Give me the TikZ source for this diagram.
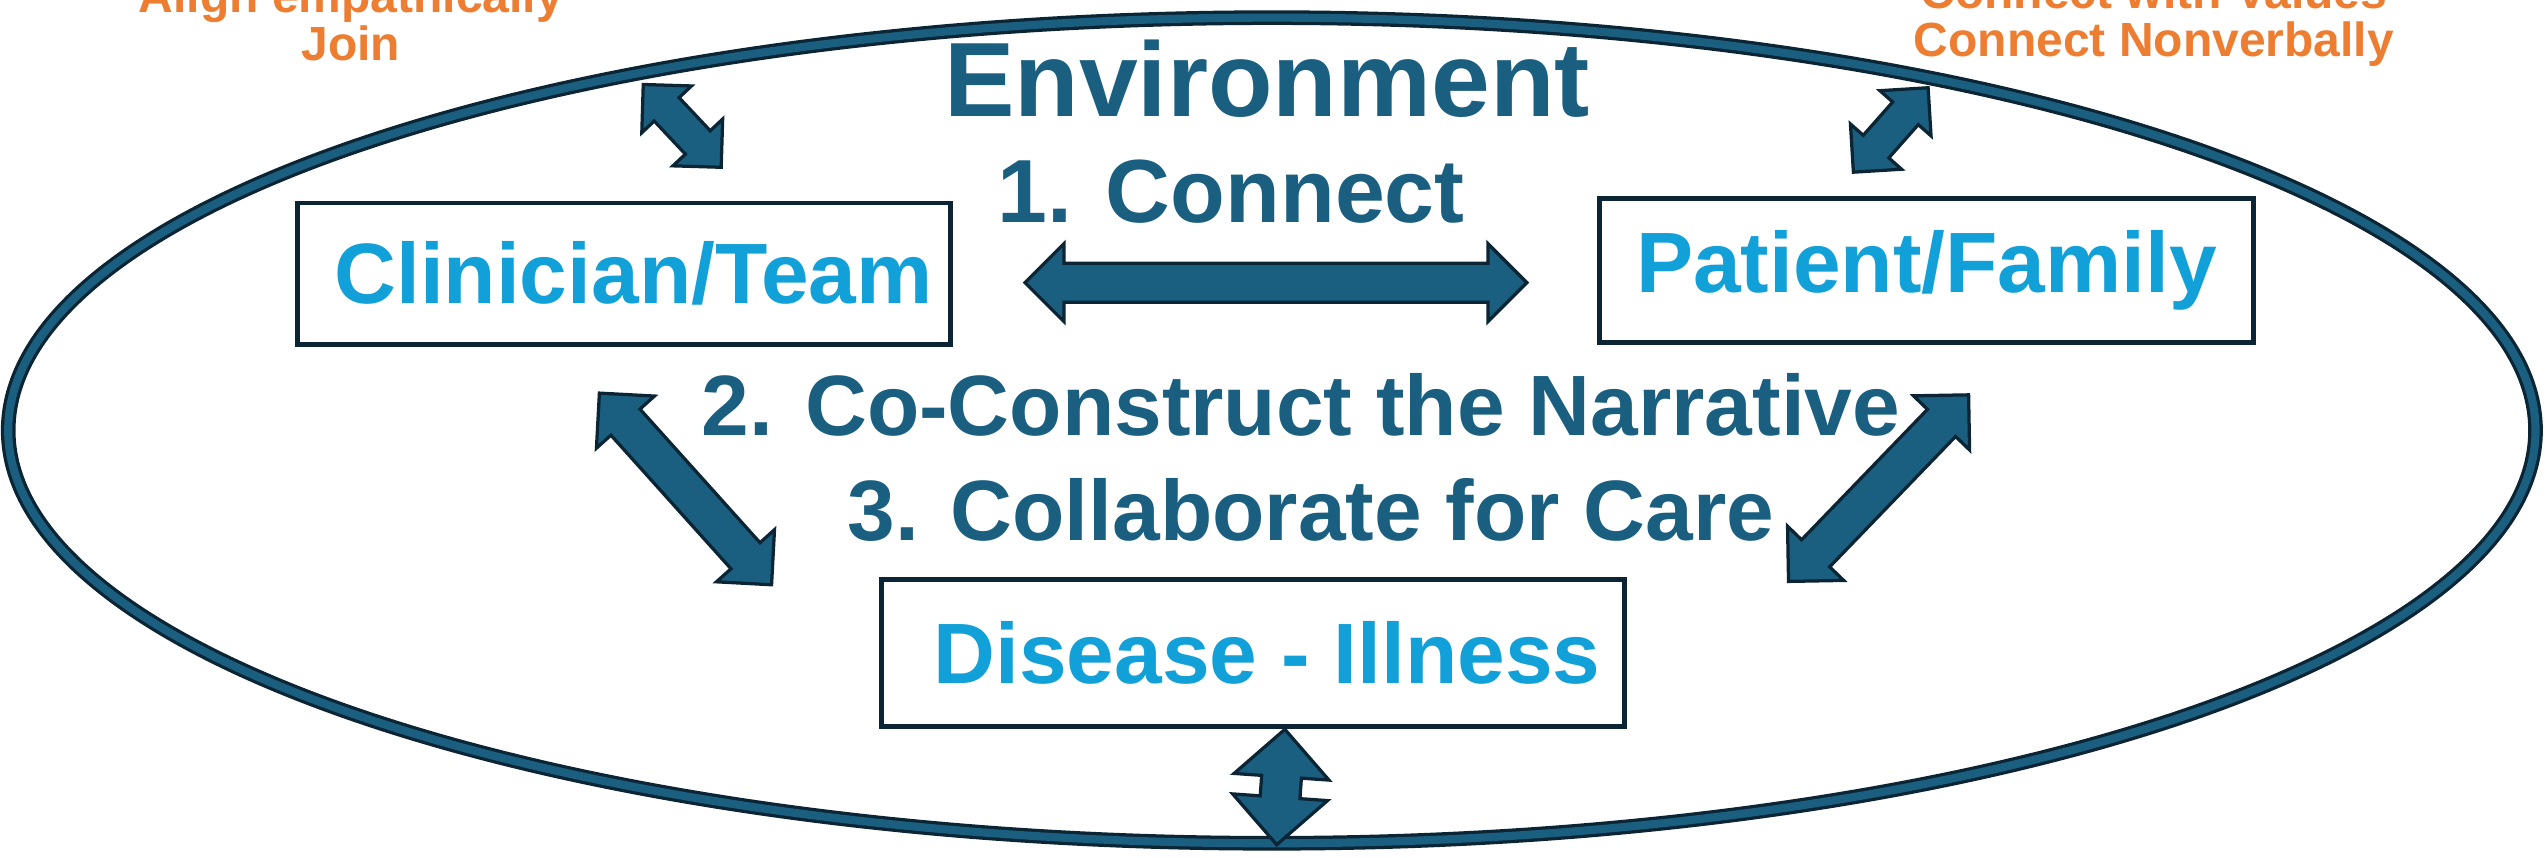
\documentclass[tikz,border=0pt]{standalone}
\usepackage{fontspec}
\setmainfont{Liberation Sans}
\usetikzlibrary{shapes.geometric, shapes.arrows, calc}

\definecolor{navy}{HTML}{1A5F80}
\definecolor{edge}{HTML}{0B2535}
\definecolor{sky}{HTML}{12A0D8}
\definecolor{amber}{HTML}{ED7D31}

\tikzset{
	party/.style={draw=edge, line width=0.03cm, fill=white, text=sky, inner sep=0pt,
		font=\fontsize{15}{16}\selectfont\bfseries},
	stage/.style={text=navy, inner sep=0pt, font=\fontsize{15}{16}\selectfont\bfseries},
	hint/.style={text=amber, align=center, inner sep=0pt, font=\fontsize{8.4}{8.4}\selectfont\bfseries},
	fat/.style 2 args={double arrow, draw=edge, fill=navy, line width=0.02cm, inner xsep=0pt,
		inner ysep=#1, double arrow head extend=#2}
}

\begin{document}
\begin{tikzpicture}[x=0.01cm, y=-0.01cm]
	\useasboundingbox (0,0) rectangle (1568,528.2);

	% the environment
	\node[ellipse, draw=edge, double=navy, double distance=0.05cm, line width=0.02cm,
		minimum width=15.55cm, minimum height=5.08cm, inner sep=0pt] (env) at (783,265) {};

	\node[party, minimum width=4.02cm, minimum height=0.87cm] (clin) at (384,168.5) {\hspace{0.12cm}Clinician/Team};
	\node[party, minimum width=4.02cm, minimum height=0.89cm] (pat)  at (1186,166.5) {Patient/Family};
	\node[party, minimum width=4.57cm, minimum height=0.90cm] (dis)  at (771.5,402) {\hspace{0.17cm}Disease - Illness};

	\node[stage, anchor=base, font=\fontsize{18.5}{20}\selectfont\bfseries] (envtxt) at (780,72) {Environment};
	\node[stage, anchor=base, font=\fontsize{15.7}{17}\selectfont\bfseries] (s1) at (758,137) {1. Connect};
	\node[stage, anchor=base] (s2) at (801,268) {2. Co-Construct the Narrative};
	\node[stage, anchor=base] (s3) at (807,333) {3. Collaborate for Care};

	\node[hint, anchor=base] (hl) at (216,37) {Align empathically\\Join};
	\node[hint, anchor=base] (hr) at (1326,35) {Connect with Values\\Connect Nonverbally};

	% arrow ends
	\coordinate (a1) at (396,52);   \coordinate (a2) at (444,103);
	\coordinate (b1) at (1187,54);  \coordinate (b2) at (1141,106);
	\coordinate (c1) at (631,174);  \coordinate (c2) at (940,174);
	\coordinate (d1) at (369,242);  \coordinate (d2) at (475,360);
	\coordinate (e1) at (1212,243); \coordinate (e2) at (1101,358);
	\coordinate (f1) at (791,449);  \coordinate (f2) at (786,520);

	\path let \p1=($(a2)-(a1)$), \n1={veclen(\x1,\y1)} in (a1) -- node[fat={0.095cm}{0.105cm}, sloped, minimum height=\n1] (ta) {} (a2);
	\path let \p1=($(b2)-(b1)$), \n1={veclen(\x1,\y1)} in (b1) -- node[fat={0.095cm}{0.105cm}, sloped, minimum height=\n1] (tb) {} (b2);
	\path let \p1=($(c2)-(c1)$), \n1={veclen(\x1,\y1)} in (c1) -- node[fat={0.11cm}{0.12cm}, sloped, minimum height=\n1] (tc) {} (c2);
	\path let \p1=($(d2)-(d1)$), \n1={veclen(\x1,\y1)} in (d1) -- node[fat={0.11cm}{0.12cm}, sloped, minimum height=\n1] (td) {} (d2);
	\path let \p1=($(e2)-(e1)$), \n1={veclen(\x1,\y1)} in (e1) -- node[fat={0.11cm}{0.12cm}, sloped, minimum height=\n1] (te) {} (e2);
	\path let \p1=($(f2)-(f1)$), \n1={veclen(\x1,\y1)} in (f1) -- node[fat={0.1125cm}{0.17cm}, sloped, minimum height=\n1] (tf) {} (f2);
\end{tikzpicture}
\end{document}
